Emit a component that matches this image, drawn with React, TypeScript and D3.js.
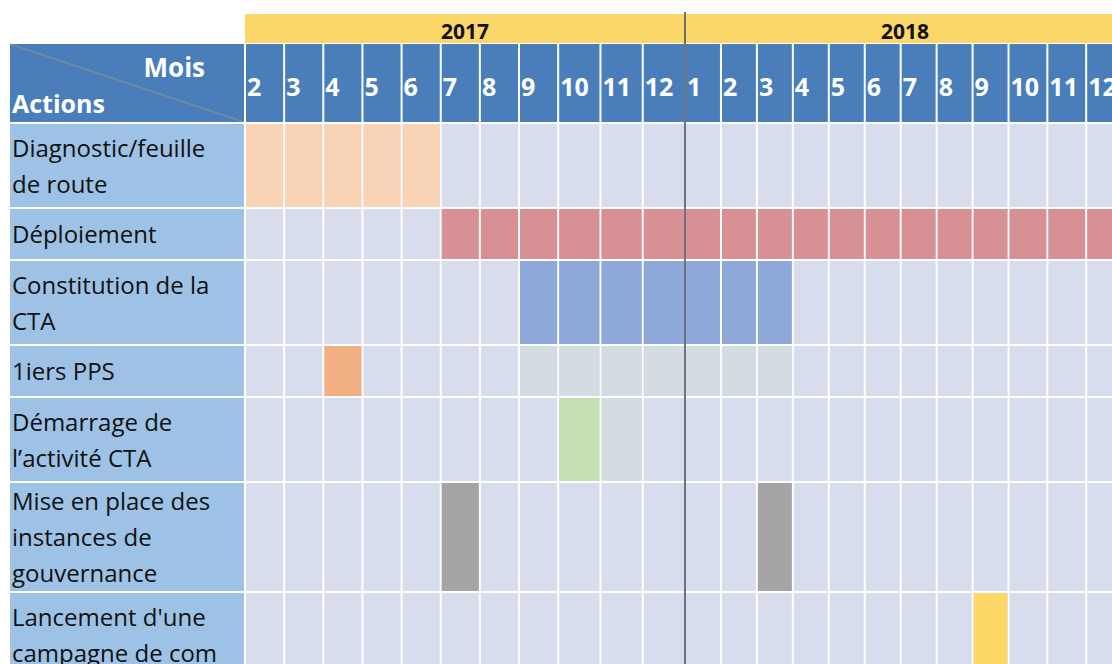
import React from "react";
import * as d3 from "d3";

// --- data ---
const years = ["2017", "2018"];
const months2017 = ["2", "3", "4", "5", "6", "7", "8", "9", "10", "11", "12"];
const months2018 = ["1", "2", "3", "4", "5", "6", "7", "8", "9", "10", "11", "12"];

const actionLabels = [
  ["Diagnostic/feuille", "de route"],
  ["Déploiement"],
  ["Constitution de la", "CTA"],
  ["1iers PPS"],
  ["Démarrage de", "l’activité CTA"],
  ["Mise en place des", "instances de", "gouvernance"],
  ["Lancement d'une", "campagne de com"],
];

// one entry per coloured span: action row, first month, last month
const taskAction = [0, 1, 2, 3, 3, 4, 4, 5, 5, 6];
const taskStart = ["2017-2", "2017-7", "2017-9", "2017-4", "2017-9", "2017-10", "2017-11", "2017-7", "2018-3", "2018-9"];
const taskEnd = ["2017-6", "2018-12", "2018-3", "2017-4", "2018-3", "2017-10", "2017-11", "2017-7", "2018-3", "2018-9"];
const taskColors = ["#f9d3b5", "#d79194", "#8ea9d9", "#f2af84", "#d3dbe3", "#c7deb2", "#d3dbe3", "#a5a5a5", "#a5a5a5", "#fdd768"];

// --- layout ---
const W = 1112;
const H = 664;
const labelLeft = 10;
const labelRight = 244;
const yearRanges: [number, number][] = [[245, 685], [685, 1125]];
const yearTop = 14;
const monthTop = 44;
const bodyTop = 123;
const lineStep = 36;
const rowHeightByLines: Record<number, number> = { 1: 52, 2: 85, 3: 110 };

const headerBlue = "#4a7ebb";
const labelBlue = "#9dc2e5";
const gridBg = "#d8ddee";
const yearYellow = "#fbd669";
const font = "'Open Sans', sans-serif";

const monthsByYear = [months2017, months2018];

interface Col {
  key: string;
  month: string;
  x0: number;
  x1: number;
}

const cols: Col[] = [];
monthsByYear.forEach((months, i) => {
  const weights = months.map((m) => (m.length > 1 ? 1.08 : 1));
  const cum = d3.cumsum(weights);
  const x = d3.scaleLinear().domain([0, d3.sum(weights)]).range(yearRanges[i]);
  months.forEach((m, j) => {
    cols.push({ key: `${years[i]}-${m}`, month: m, x0: x(cum[j] - weights[j]), x1: x(cum[j]) });
  });
});
const colIndex = new Map(cols.map((c, i) => [c.key, i]));

const rowHeights = actionLabels.map((l) => rowHeightByLines[l.length]);
const rowTops = [bodyTop, ...Array.from(d3.cumsum(rowHeights)).map((h) => bodyTop + h)];

const App: React.FC = () => {
  const taskCells: { x: number; w: number; y: number; h: number; color: string; k: string }[] = [];
  taskAction.forEach((r, t) => {
    const a = colIndex.get(taskStart[t])!;
    const b = colIndex.get(taskEnd[t])!;
    for (let c = a; c <= b; c++) {
      taskCells.push({
        x: cols[c].x0 + 1,
        w: cols[c].x1 - cols[c].x0 - 2,
        y: rowTops[r] + 1,
        h: rowHeights[r] - 2,
        color: taskColors[t],
        k: `${t}-${c}`,
      });
    }
  });

  return (
    <svg width={W} height={H} style={{ position: "absolute", left: 0, top: 0, background: "#fff" }} fontFamily={font}>
      {/* year band */}
      {years.map((y, i) => (
        <g key={y}>
          <rect x={yearRanges[i][0]} y={yearTop} width={yearRanges[i][1] - yearRanges[i][0]} height={monthTop - yearTop - 1} fill={yearYellow} />
          <text x={(yearRanges[i][0] + yearRanges[i][1]) / 2} y={39} textAnchor="middle" fontSize={21} fontWeight="bold" fill="#111">
            {y}
          </text>
        </g>
      ))}

      {/* corner header */}
      <rect x={labelLeft} y={monthTop} width={labelRight - labelLeft} height={bodyTop - monthTop - 1} fill={headerBlue} />
      <line x1={labelLeft} y1={monthTop} x2={labelRight} y2={bodyTop - 1} stroke="#8c8c8c" strokeWidth={1.2} />
      <text x={205} y={77} textAnchor="end" fontSize={26} fontWeight="bold" fill="#fff">Mois</text>
      <text x={12} y={113} fontSize={25} fontWeight="bold" fill="#fff">Actions</text>

      {/* month header */}
      {cols.map((c) => (
        <g key={c.key}>
          <rect x={c.x0 + 1} y={monthTop} width={c.x1 - c.x0 - 2} height={bodyTop - monthTop - 1} fill={headerBlue} />
          <text x={c.x0 + 2} y={96} fontSize={25} fontWeight="bold" fill="#fff">{c.month}</text>
        </g>
      ))}

      {/* body rows */}
      {actionLabels.map((lines, r) => {
        const top = rowTops[r];
        const h = rowHeights[r];
        const mid = top + h / 2;
        return (
          <g key={r}>
            <rect x={labelLeft} y={top + 1} width={labelRight - labelLeft} height={h - 2} fill={labelBlue} />
            {lines.map((ln, i) => (
              <text key={i} x={12} y={mid + (i - (lines.length - 1) / 2) * lineStep + 9} fontSize={24} fill="#111">
                {ln}
              </text>
            ))}
            {cols.map((c) => (
              <rect key={c.key} x={c.x0 + 1} y={top + 1} width={c.x1 - c.x0 - 2} height={h - 2} fill={gridBg} />
            ))}
          </g>
        );
      })}

      {/* tasks */}
      {taskCells.map((d) => (
        <rect key={d.k} x={d.x} y={d.y} width={d.w} height={d.h} fill={d.color} />
      ))}

      {/* year divider */}
      <line x1={yearRanges[1][0]} y1={12} x2={yearRanges[1][0]} y2={H} stroke="#555b66" strokeWidth={2} opacity={0.85} />
    </svg>
  );
};

export default App;
